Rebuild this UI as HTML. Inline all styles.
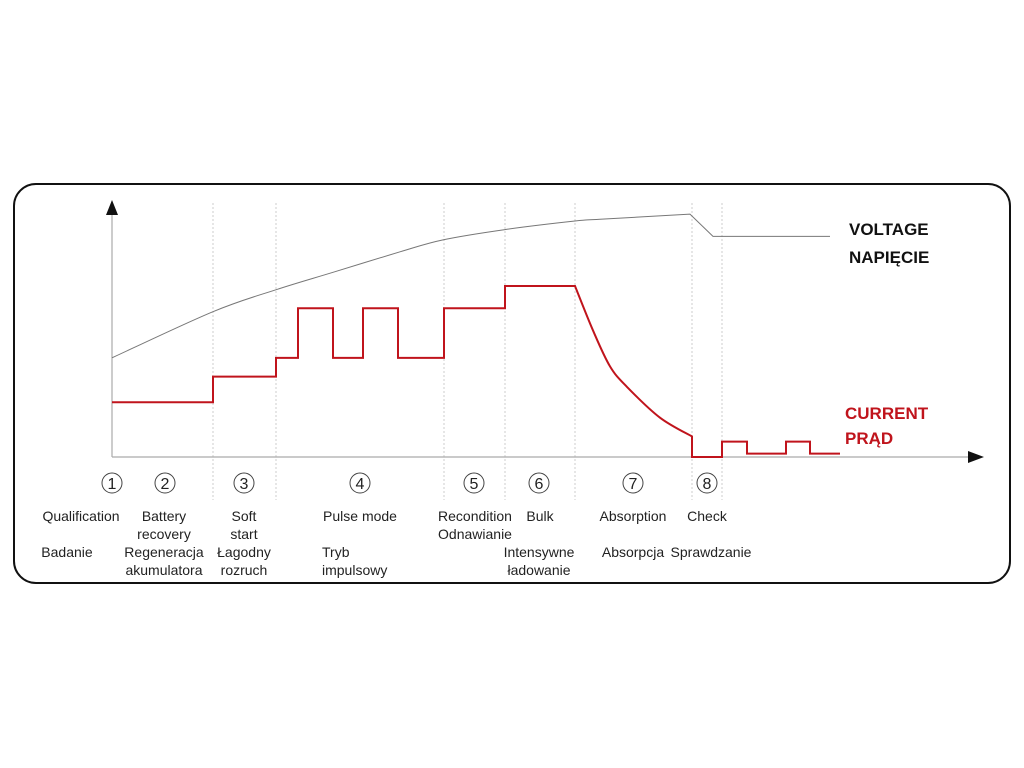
<!DOCTYPE html>
<html><head><meta charset="utf-8">
<style>
html,body{margin:0;padding:0;background:#fff;}
svg{display:block;}
svg text{font-family:"Liberation Sans",Arial,sans-serif;}
</style></head>
<body>
<svg id="chart" width="1024" height="768" viewBox="0 0 1024 768" xmlns="http://www.w3.org/2000/svg" font-family="Liberation Sans, sans-serif">
  <rect x="14" y="184" width="996" height="399" rx="22" ry="22" fill="#fff" stroke="#111" stroke-width="2"/>
  <g id="grid"></g>
  <line x1="112" y1="212" x2="112" y2="457" stroke="#aaa" stroke-width="1.2"/>
  <polygon points="112,200 106,215 118,215" fill="#111"/>
  <line x1="112" y1="457" x2="970" y2="457" stroke="#aaa" stroke-width="1.2"/>
  <polygon points="984,457 968,451 968,463" fill="#111"/>
  <path id="voltage" fill="none" stroke="#777" stroke-width="1"/>
  <path id="current" fill="none" stroke="#c0141c" stroke-width="2"/>
  <g font-weight="bold" font-size="17" fill="#111">
    <text x="849" y="235">VOLTAGE</text>
    <text x="849" y="263">NAPIĘCIE</text>
  </g>
  <g font-weight="bold" font-size="17" fill="#c0141c">
    <text x="845" y="419">CURRENT</text>
    <text x="845" y="444">PRĄD</text>
  </g>
  <g id="stages"></g>
  <g font-size="14" fill="#222" text-anchor="middle">
    <text x="81" y="521">Qualification</text>
    <text x="67" y="557">Badanie</text>
    <text x="164" y="521">Battery</text>
    <text x="164" y="539">recovery</text>
    <text x="164" y="557">Regeneracja</text>
    <text x="164" y="575">akumulatora</text>
    <text x="244" y="521">Soft</text>
    <text x="244" y="539">start</text>
    <text x="244" y="557">Łagodny</text>
    <text x="244" y="575">rozruch</text>
    <text x="360" y="521">Pulse mode</text>
    <text x="322" y="557" text-anchor="start">Tryb</text>
    <text x="322" y="575" text-anchor="start">impulsowy</text>
    <text x="475" y="521">Recondition</text>
    <text x="475" y="539">Odnawianie</text>
    <text x="540" y="521">Bulk</text>
    <text x="539" y="557">Intensywne</text>
    <text x="539" y="575">ładowanie</text>
    <text x="633" y="521">Absorption</text>
    <text x="633" y="557">Absorpcja</text>
    <text x="707" y="521">Check</text>
    <text x="711" y="557">Sprawdzanie</text>
  </g>
</svg>
<script>
const dividerTimes = [10.1, 16.4, 33.2, 39.3, 46.3, 58.0, 61.0];
const stageNumbers = ["1","2","3","4","5","6","7","8"];
const stageTimes = [0, 5.3, 13.2, 24.8, 36.2, 42.7, 52.1, 59.5];
const stepTimesA = [0, 10.1, 10.1, 16.4, 16.4, 18.6, 18.6, 22.1, 22.1, 25.1, 25.1, 28.6, 28.6, 33.2, 33.2, 39.3, 39.3, 46.3];
const stepValuesA = [32, 32, 47, 47, 58, 58, 87, 87, 58, 58, 87, 87, 58, 58, 87, 87, 100, 100];
const decayTimes = [46.3, 48.1, 49.8, 51.5, 54.8, 58.0];
const decayValues = [100, 74, 53, 41, 23, 12];
const stepTimesB = [58.0, 58.0, 61.0, 61.0, 63.5, 63.5, 67.4, 67.4, 69.8, 69.8, 72.8];
const stepValuesB = [12, 0, 0, 9, 9, 2, 2, 9, 9, 2, 2];
const voltageTimes = [0, 10.1, 16.5, 22.1, 28.8, 33.1, 39.3, 46.3, 48.8, 57.8];
const voltageValues = [58, 85, 98, 108, 120, 127, 133, 138, 139, 142];
const voltageTailTimes = [57.8, 60.1, 71.8];
const voltageTailValues = [142, 129, 129];

const NS = "http://www.w3.org/2000/svg";
const xScale = t => 112 + t * 10;
const yScale = v => 457 - v * 1.71;

function smooth(pts) {
  let d = '';
  for (let i = 0; i < pts.length - 1; i++) {
    const p0 = pts[i - 1] || pts[i], p1 = pts[i], p2 = pts[i + 1], p3 = pts[i + 2] || p2;
    const c1 = [p1[0] + (p2[0] - p0[0]) / 6, p1[1] + (p2[1] - p0[1]) / 6];
    const c2 = [p2[0] - (p3[0] - p1[0]) / 6, p2[1] - (p3[1] - p1[1]) / 6];
    d += ` C${c1[0]},${c1[1]} ${c2[0]},${c2[1]} ${p2[0]},${p2[1]}`;
  }
  return d;
}
const toPts = (ts, vs) => ts.map((t, i) => [xScale(t), yScale(vs[i])]);

const grid = document.getElementById('grid');
dividerTimes.forEach(t => {
  const l = document.createElementNS(NS, 'line');
  
  
  l.setAttribute('x1', xScale(t)); l.setAttribute('x2', xScale(t));
  l.setAttribute('y1', 203); l.setAttribute('y2', 500);
  l.setAttribute('stroke', '#ccc'); l.setAttribute('stroke-width', '1');
  l.setAttribute('stroke-dasharray', '2,2');
  grid.appendChild(l);
});

const a = toPts(stepTimesA, stepValuesA), dc = toPts(decayTimes, decayValues), b = toPts(stepTimesB, stepValuesB);
let cd = 'M' + a.map(p => p.join(',')).join(' L');
cd += smooth(dc);
cd += ' L' + b.map(p => p.join(',')).join(' L');
document.getElementById('current').setAttribute('d', cd);

const vp = toPts(voltageTimes, voltageValues), vt = toPts(voltageTailTimes, voltageTailValues);
document.getElementById('voltage').setAttribute('d',
  'M' + vp[0].join(',') + smooth(vp) + ' L' + vt.map(p => p.join(',')).join(' L'));

const stages = document.getElementById('stages');
stageNumbers.forEach((n, i) => {
  const cx = xScale(stageTimes[i]);
  const c = document.createElementNS(NS, 'circle');
  
  
  c.setAttribute('cx', cx); c.setAttribute('cy', 483); c.setAttribute('r', 10);
  c.setAttribute('fill', '#fff'); c.setAttribute('stroke', '#444'); c.setAttribute('stroke-width', '1');
  stages.appendChild(c);
  const tx = document.createElementNS(NS, 'text');
  
  
  tx.setAttribute('x', cx); tx.setAttribute('y', 489);
  tx.setAttribute('text-anchor', 'middle'); tx.setAttribute('font-size', '16'); tx.setAttribute('fill', '#222');
  tx.textContent = n;
  stages.appendChild(tx);
});
</script>
</body></html>
